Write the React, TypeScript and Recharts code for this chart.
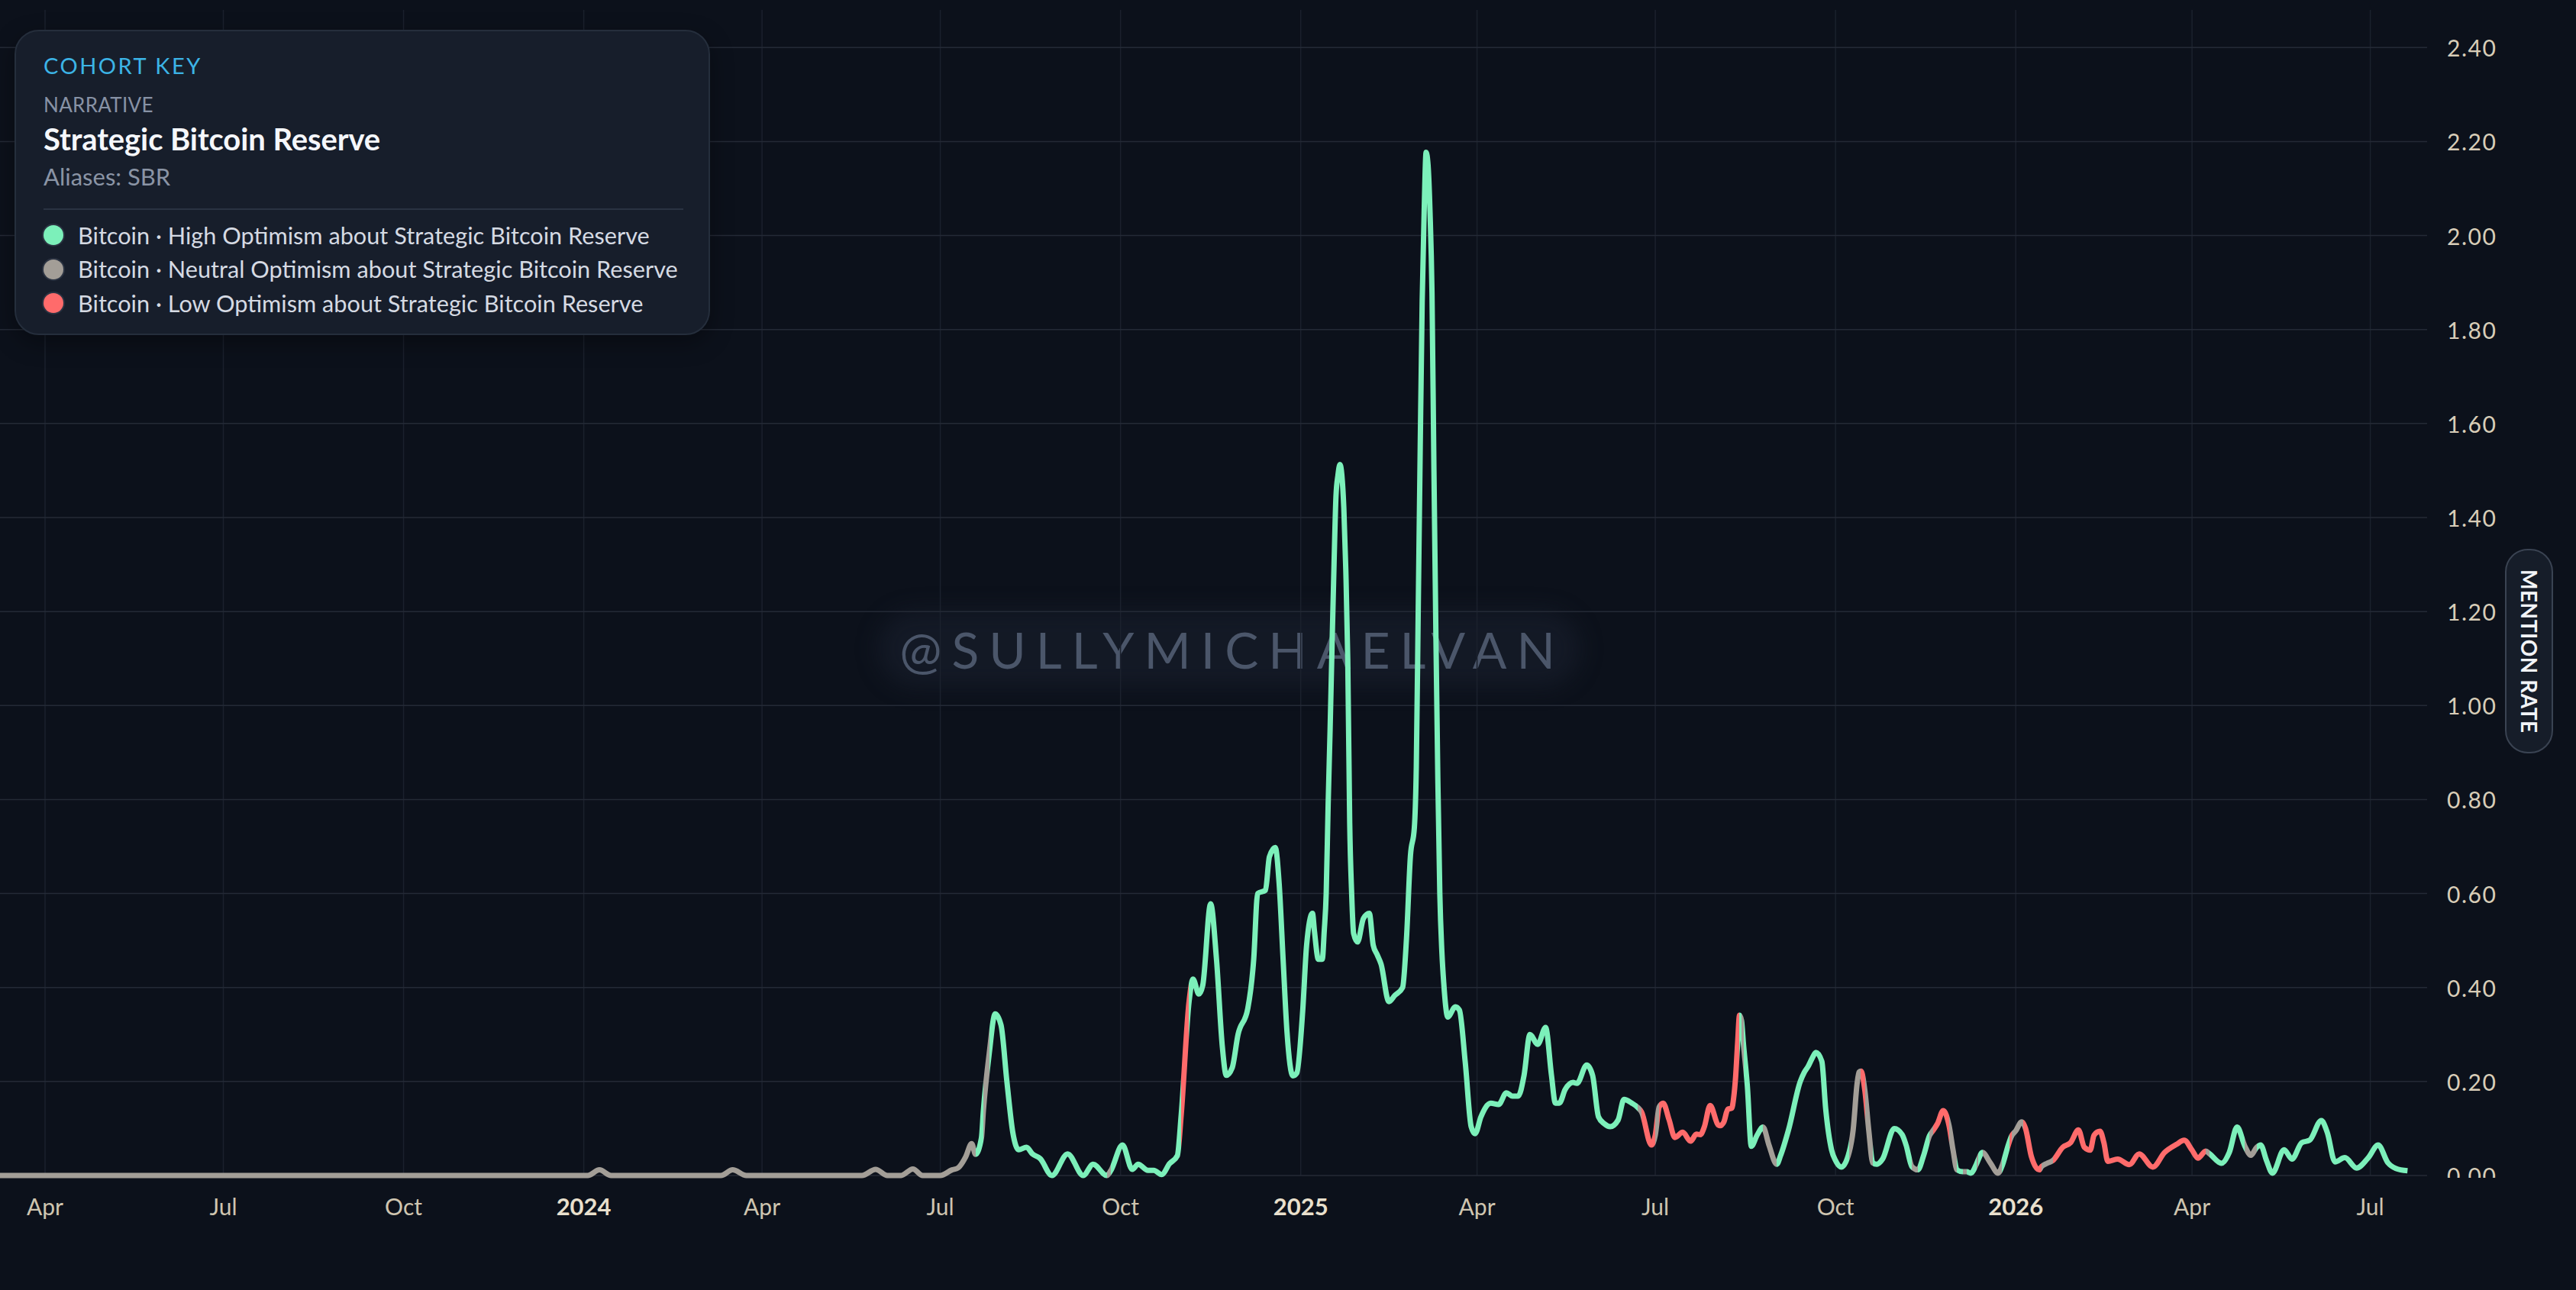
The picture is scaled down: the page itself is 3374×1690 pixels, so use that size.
import React from 'react';
import { LineChart, Line, XAxis, YAxis, CartesianGrid } from 'recharts';

// mention rate samples
const dates = [
  '2023-03-09', '2024-01-03', '2024-01-09', '2024-01-15', '2024-03-11', '2024-03-17', '2024-03-24',
  '2024-05-22', '2024-05-29', '2024-06-04', '2024-06-11', '2024-06-17', '2024-06-22', '2024-07-01',
  '2024-07-07', '2024-07-10', '2024-07-14', '2024-07-17', '2024-07-19', '2024-07-22', '2024-07-23',
  '2024-07-26', '2024-07-29', '2024-08-01', '2024-08-04', '2024-08-07', '2024-08-10', '2024-08-14',
  '2024-08-17', '2024-08-21', '2024-08-27', '2024-09-04', '2024-09-12', '2024-09-17', '2024-09-24',
  '2024-09-26', '2024-10-02', '2024-10-07', '2024-10-10', '2024-10-15', '2024-10-18', '2024-10-22',
  '2024-10-26', '2024-10-30', '2024-11-01', '2024-11-05', '2024-11-07', '2024-11-10', '2024-11-12',
  '2024-11-16', '2024-11-19', '2024-11-22', '2024-11-24', '2024-11-27', '2024-11-30', '2024-12-05',
  '2024-12-08', '2024-12-10', '2024-12-14', '2024-12-16', '2024-12-19', '2024-12-21', '2024-12-23',
  '2024-12-25', '2024-12-28', '2024-12-30', '2025-01-02', '2025-01-04', '2025-01-07', '2025-01-08',
  '2025-01-10', '2025-01-12', '2025-01-13', '2025-01-14', '2025-01-15', '2025-01-16', '2025-01-17',
  '2025-01-18', '2025-01-19', '2025-01-20', '2025-01-21', '2025-01-22', '2025-01-23', '2025-01-24',
  '2025-01-25', '2025-01-26', '2025-01-27', '2025-01-28', '2025-01-30', '2025-02-02', '2025-02-05',
  '2025-02-07', '2025-02-09', '2025-02-11', '2025-02-15', '2025-02-18', '2025-02-22', '2025-02-24',
  '2025-02-26', '2025-02-28', '2025-03-01', '2025-03-02', '2025-03-03', '2025-03-04', '2025-03-05',
  '2025-03-06', '2025-03-07', '2025-03-08', '2025-03-09', '2025-03-10', '2025-03-11', '2025-03-12',
  '2025-03-13', '2025-03-14', '2025-03-15', '2025-03-16', '2025-03-17', '2025-03-21', '2025-03-23',
  '2025-03-26', '2025-03-29', '2025-03-31', '2025-04-03', '2025-04-08', '2025-04-12', '2025-04-16',
  '2025-04-19', '2025-04-22', '2025-04-25', '2025-04-28', '2025-05-02', '2025-05-06', '2025-05-09',
  '2025-05-11', '2025-05-13', '2025-05-16', '2025-05-20', '2025-05-22', '2025-05-27', '2025-05-30',
  '2025-06-02', '2025-06-05', '2025-06-08', '2025-06-12', '2025-06-15', '2025-06-19', '2025-06-22',
  '2025-06-24', '2025-06-29', '2025-07-01', '2025-07-03', '2025-07-05', '2025-07-08', '2025-07-11',
  '2025-07-15', '2025-07-19', '2025-07-22', '2025-07-24', '2025-07-26', '2025-07-29', '2025-08-02',
  '2025-08-03', '2025-08-05', '2025-08-07', '2025-08-09', '2025-08-10', '2025-08-11', '2025-08-12',
  '2025-08-13', '2025-08-14', '2025-08-15', '2025-08-17', '2025-08-19', '2025-08-22', '2025-08-25',
  '2025-08-28', '2025-09-01', '2025-09-03', '2025-09-07', '2025-09-13', '2025-09-15', '2025-09-17',
  '2025-09-19', '2025-09-21', '2025-09-24', '2025-09-26', '2025-09-29', '2025-10-01', '2025-10-04',
  '2025-10-08', '2025-10-10', '2025-10-12', '2025-10-13', '2025-10-14', '2025-10-16', '2025-10-18',
  '2025-10-20', '2025-10-22', '2025-10-25', '2025-10-31', '2025-11-04', '2025-11-06', '2025-11-09',
  '2025-11-12', '2025-11-15', '2025-11-18', '2025-11-20', '2025-11-22', '2025-11-25', '2025-11-28',
  '2025-11-30', '2025-12-02', '2025-12-05', '2025-12-07', '2025-12-09', '2025-12-12', '2025-12-13',
  '2025-12-15', '2025-12-19', '2025-12-23', '2025-12-25', '2025-12-28', '2025-12-29', '2025-12-30',
  '2026-01-01', '2026-01-04', '2026-01-05', '2026-01-06', '2026-01-09', '2026-01-13', '2026-01-14',
  '2026-01-17', '2026-01-20', '2026-01-25', '2026-01-29', '2026-02-02', '2026-02-05', '2026-02-08',
  '2026-02-10', '2026-02-13', '2026-02-15', '2026-02-17', '2026-02-22', '2026-02-28', '2026-03-05',
  '2026-03-12', '2026-03-18', '2026-03-24', '2026-03-28', '2026-04-01', '2026-04-04', '2026-04-08',
  '2026-04-10', '2026-04-16', '2026-04-20', '2026-04-24', '2026-04-28', '2026-05-01', '2026-05-04',
  '2026-05-06', '2026-05-09', '2026-05-12', '2026-05-18', '2026-05-22', '2026-05-27', '2026-05-31',
  '2026-06-06', '2026-06-09', '2026-06-13', '2026-06-18', '2026-06-24', '2026-06-30', '2026-07-05',
  '2026-07-10', '2026-07-14', '2026-07-20',
];

const rates = [
  0, 0, 0.012, 0, 0, 0.012, 0,
  0, 0.013, 0, 0, 0.014, 0, 0,
  0.012, 0.016, 0.04, 0.068, 0.045, 0.08, 0.138,
  0.26, 0.344, 0.32, 0.2, 0.092, 0.055, 0.06,
  0.046, 0.036, 0, 0.046, 0, 0.024, 0,
  0.01, 0.065, 0.013, 0.024, 0.011, 0.011, 0.002,
  0.025, 0.042, 0.13, 0.37, 0.418, 0.386, 0.405,
  0.578, 0.46, 0.273, 0.213, 0.229, 0.3, 0.356,
  0.46, 0.6, 0.607, 0.678, 0.698, 0.62, 0.46,
  0.305, 0.212, 0.218, 0.35, 0.49, 0.558, 0.52,
  0.46, 0.46, 0.52, 0.6, 0.79, 0.95, 1.13,
  1.3, 1.446, 1.49, 1.513, 1.49, 1.42, 1.29,
  1.1, 0.75, 0.6, 0.515, 0.497, 0.547, 0.558,
  0.49, 0.47, 0.45, 0.37, 0.383, 0.4, 0.505,
  0.68, 0.74, 0.87, 1.21, 1.55, 1.86, 2.05,
  2.177, 2.15, 2.05, 1.88, 1.5, 1.15, 0.84,
  0.6, 0.48, 0.41, 0.36, 0.337, 0.359, 0.352,
  0.24, 0.104, 0.089, 0.125, 0.154, 0.151, 0.176,
  0.169, 0.169, 0.213, 0.3, 0.279, 0.315, 0.213,
  0.154, 0.154, 0.183, 0.198, 0.196, 0.235, 0.213,
  0.125, 0.11, 0.104, 0.118, 0.162, 0.154, 0.145,
  0.135, 0.065, 0.086, 0.146, 0.154, 0.119, 0.081,
  0.092, 0.073, 0.088, 0.087, 0.103, 0.149, 0.108,
  0.106, 0.114, 0.141, 0.143, 0.165, 0.21, 0.28,
  0.341, 0.33, 0.28, 0.19, 0.062, 0.086, 0.103,
  0.065, 0.024, 0.043, 0.097, 0.2, 0.219, 0.232,
  0.249, 0.262, 0.243, 0.141, 0.054, 0.032, 0.018,
  0.05, 0.097, 0.195, 0.22, 0.222, 0.18, 0.095,
  0.027, 0.024, 0.035, 0.1, 0.087, 0.065, 0.019,
  0.012, 0.043, 0.085, 0.097, 0.11, 0.138, 0.105,
  0.054, 0.012, 0.008, 0.008, 0.005, 0.025, 0.035,
  0.049, 0.027, 0.005, 0.02, 0.062, 0.075, 0.085,
  0.095, 0.114, 0.11, 0.1, 0.04, 0.012, 0.018,
  0.026, 0.032, 0.06, 0.07, 0.097, 0.06, 0.054,
  0.086, 0.094, 0.07, 0.03, 0.035, 0.023, 0.046,
  0.018, 0.049, 0.066, 0.075, 0.054, 0.037, 0.052,
  0.046, 0.026, 0.049, 0.103, 0.062, 0.043, 0.06,
  0.065, 0.032, 0.005, 0.055, 0.035, 0.07, 0.075,
  0.117, 0.092, 0.029, 0.038, 0.016, 0.038, 0.065,
  0.027, 0.015, 0.01,
];

// optimism cohort of the stretch that starts at each sample: H high, N neutral, L low
const tones = [
  'N', 'N', 'N', 'N', 'N', 'N', 'N',
  'N', 'N', 'N', 'N', 'N', 'N', 'N',
  'N', 'N', 'N', 'N', 'H', 'H', 'N',
  'H', 'H', 'H', 'H', 'H', 'H', 'H',
  'H', 'H', 'H', 'H', 'H', 'H', 'N',
  'H', 'H', 'H', 'H', 'H', 'H', 'H',
  'H', 'H', 'L', 'H', 'H', 'H', 'H',
  'H', 'H', 'H', 'H', 'H', 'H', 'H',
  'H', 'H', 'H', 'H', 'H', 'H', 'H',
  'H', 'H', 'H', 'H', 'H', 'H', 'H',
  'H', 'H', 'H', 'H', 'H', 'H', 'H',
  'H', 'H', 'H', 'H', 'H', 'H', 'H',
  'H', 'H', 'H', 'H', 'H', 'H', 'H',
  'H', 'H', 'H', 'H', 'H', 'H', 'H',
  'H', 'H', 'H', 'H', 'H', 'H', 'H',
  'H', 'H', 'H', 'H', 'H', 'H', 'H',
  'H', 'H', 'H', 'H', 'H', 'H', 'H',
  'H', 'H', 'H', 'H', 'H', 'H', 'H',
  'H', 'H', 'H', 'H', 'H', 'H', 'H',
  'H', 'H', 'H', 'H', 'H', 'H', 'H',
  'H', 'H', 'H', 'H', 'H', 'H', 'N',
  'L', 'L', 'N', 'L', 'L', 'L', 'L',
  'L', 'L', 'L', 'L', 'L', 'L', 'L',
  'L', 'L', 'L', 'L', 'L', 'L', 'L',
  'H', 'N', 'H', 'H', 'H', 'H', 'N',
  'N', 'H', 'H', 'H', 'H', 'H', 'H',
  'H', 'H', 'H', 'H', 'H', 'H', 'H',
  'N', 'N', 'N', 'N', 'L', 'N', 'N',
  'H', 'H', 'H', 'H', 'H', 'H', 'N',
  'H', 'H', 'N', 'L', 'L', 'L', 'N',
  'N', 'H', 'N', 'H', 'H', 'N', 'H',
  'N', 'N', 'N', 'H', 'H', 'L', 'N',
  'N', 'N', 'L', 'L', 'L', 'L', 'N',
  'N', 'L', 'L', 'L', 'L', 'L', 'L',
  'L', 'L', 'L', 'L', 'L', 'L', 'L',
  'L', 'L', 'L', 'L', 'L', 'L', 'N',
  'H', 'H', 'H', 'H', 'N', 'N', 'H',
  'H', 'H', 'H', 'H', 'H', 'H', 'H',
  'H', 'H', 'H', 'H', 'H', 'H', 'H',
  'H', 'H', 'H',
];

const toneColors: Record<string, string> = { H: '#7cf0ba', N: '#a39e97', L: '#ff6b6b' };

const legendTones = ['H', 'N', 'L'];
const legendLabels = [
  'Bitcoin · High Optimism about Strategic Bitcoin Reserve',
  'Bitcoin · Neutral Optimism about Strategic Bitcoin Reserve',
  'Bitcoin · Low Optimism about Strategic Bitcoin Reserve',
];

const xTickDates = [
  '2023-04-01', '2023-07-01', '2023-10-01', '2024-01-01', '2024-04-01', '2024-07-01', '2024-10-01',
  '2025-01-01', '2025-04-01', '2025-07-01', '2025-10-01', '2026-01-01', '2026-04-01', '2026-07-01',
];
const xTickLabels = ['Apr', 'Jul', 'Oct', '2024', 'Apr', 'Jul', 'Oct', '2025', 'Apr', 'Jul', 'Oct', '2026', 'Apr', 'Jul'];
const yTicks = [0, 0.2, 0.4, 0.6, 0.8, 1.0, 1.2, 1.4, 1.6, 1.8, 2.0, 2.2, 2.4];

const FONT = 'Lato, "Noto Sans", sans-serif';
const BG = '#0c111b';

const rows = dates.map((d, i) => ({ t: Date.parse(d), rate: rates[i] }));
const xTickTimes = xTickDates.map(d => Date.parse(d));
const tFirst = rows[0].t;
const tLast = rows[rows.length - 1].t;

function toneStops() {
  const span = tLast - tFirst;
  const out: React.ReactNode[] = [];
  for (let i = 0; i < rows.length - 1; i++) {
    const c = toneColors[tones[i]];
    out.push(<stop key={`a${i}`} offset={(rows[i].t - tFirst) / span} stopColor={c} />);
    out.push(<stop key={`b${i}`} offset={(rows[i + 1].t - tFirst) / span} stopColor={c} />);
  }
  return out;
}

function scaleOf(axis: any) {
  const s = axis?.scale;
  if (typeof s === 'function') return s;
  if (s && typeof s.map === 'function') return (v: number) => s.map(v);
  return null;
}

function XTick({ x, y, payload }: any) {
  const label = xTickLabels[xTickTimes.indexOf(payload.value)] ?? '';
  const isYear = /^\d{4}$/.test(label);
  return (
    <text
      x={x} y={y + 40} textAnchor="middle" dominantBaseline="central"
      fill={isYear ? '#e9e0cd' : '#cfc5b0'} fontSize={isYear ? 31 : 30}
      fontWeight={isYear ? 700 : 400} fontFamily={FONT}
    >
      {label}
    </text>
  );
}

function YTick({ x, y, payload }: any) {
  const v = payload.value as number;
  const text = (
    <text
      x={x} y={y} textAnchor="start" dominantBaseline="central"
      fill="#d8cdb8" fontSize={30} letterSpacing={1.5} fontFamily={FONT}
      clipPath={v === 0 ? 'url(#zeroTickClip)' : undefined}
    >
      {v.toFixed(2)}
    </text>
  );
  if (v !== 0) return text;
  // the bottom label is cut off by the axis band in the original
  return (
    <g>
      <defs>
        <clipPath id="zeroTickClip">
          <rect x={x - 10} y={y - 40} width={120} height={43} />
        </clipPath>
      </defs>
      {text}
    </g>
  );
}

function Legend() {
  return (
    <div style={{
      position: 'absolute', left: 19, top: 39, width: 907, height: 396,
      background: '#171e2b', border: '2px solid #252e3c', borderRadius: 32,
      boxShadow: '0 10px 30px rgba(0,0,0,0.35)', fontFamily: FONT,
    }}>
      <div style={{ position: 'absolute', left: 36, top: 30, fontSize: 29, lineHeight: '29px', color: '#3cb4e6', letterSpacing: 2.5 }}>
        COHORT KEY
      </div>
      <div style={{ position: 'absolute', left: 36, top: 83, fontSize: 26, lineHeight: '26px', color: '#8792a5', letterSpacing: 0.3 }}>
        NARRATIVE
      </div>
      <div style={{ position: 'absolute', left: 36, top: 121, fontSize: 40, lineHeight: '40px', color: '#f5f7fb', fontWeight: 700, letterSpacing: -0.1 }}>
        Strategic Bitcoin Reserve
      </div>
      <div style={{ position: 'absolute', left: 36, top: 175, fontSize: 31, lineHeight: '31px', color: '#8a94a5' }}>
        Aliases: SBR
      </div>
      <div style={{ position: 'absolute', left: 36, top: 232, width: 838, height: 2, background: '#2a3342' }} />
      {legendTones.map((tone, i) => (
        <div key={tone} style={{
          position: 'absolute', left: 36, top: 245 + i * 44.5, height: 44,
          display: 'flex', alignItems: 'center',
        }}>
          <span style={{
            width: 26, height: 26, borderRadius: '50%', background: toneColors[tone],
            boxShadow: '0 0 0 2px #2b3342', marginRight: 19, flex: 'none',
          }} />
          <span style={{ fontSize: 30.7, color: '#d5dae3', whiteSpace: 'nowrap' }}>{legendLabels[i]}</span>
        </div>
      ))}
    </div>
  );
}

export default function App() {
  return (
    <div style={{ position: 'absolute', left: 0, top: 0, width: 3374, height: 1690, background: BG, overflow: 'hidden' }}>
      <div style={{
        position: 'absolute', left: 1150, top: 800, width: 920, height: 100, borderRadius: 50,
        background: 'rgba(28,36,50,0.45)', filter: 'blur(14px)',
      }} />
      <div style={{
        position: 'absolute', left: 1614, top: 851, transform: 'translate(-50%, -50%)',
        fontFamily: FONT, fontSize: 66, fontWeight: 400, letterSpacing: 13, color: '#4b566a',
        whiteSpace: 'nowrap', lineHeight: '66px',
      }}>
        @SULLYMICHAELVAN
      </div>
      <div style={{ position: 'absolute', left: 0, top: 0 }}>
        <LineChart width={3374} height={1690} data={rows} margin={{ top: 13, right: 45, bottom: 90, left: 0 }}>
          <defs>
            <linearGradient id="toneGrad" x1="0" y1="0" x2="1" y2="0">
              {toneStops()}
            </linearGradient>
          </defs>
          <CartesianGrid
            horizontal={false} stroke="#1b212d" strokeWidth={1.5}
            verticalCoordinatesGenerator={({ xAxis }: any) => {
              const s = scaleOf(xAxis);
              return s ? xTickTimes.map(t => s(t)) : [];
            }}
          />
          <CartesianGrid
            vertical={false} stroke="#242a36" strokeWidth={1.5}
            horizontalCoordinatesGenerator={({ yAxis }: any) => {
              const s = scaleOf(yAxis);
              return s ? yTicks.map(v => s(v)) : [];
            }}
          />
          <XAxis
            dataKey="t" type="number" domain={[tFirst, Date.parse('2026-07-30')]} ticks={xTickTimes}
            height={60} axisLine={false} tickLine={false} tickSize={0} tickMargin={0}
            tick={<XTick />} interval={0}
          />
          <YAxis
            orientation="right" type="number" domain={[0, 2.48]} ticks={yTicks}
            width={150} axisLine={false} tickLine={false} tickSize={0} tickMargin={26}
            tick={<YTick />} interval={0}
          />
          <Line
            type="monotone" dataKey="rate" stroke="url(#toneGrad)" strokeWidth={7}
            strokeLinejoin="round" strokeLinecap="butt" dot={false} activeDot={false}
            isAnimationActive={false}
          />
        </LineChart>
      </div>
      <Legend />
      <div style={{
        position: 'absolute', left: 3281, top: 719, width: 59, height: 264,
        background: '#161d29', border: '2px solid #3a4352', borderRadius: 30,
        display: 'flex', alignItems: 'center', justifyContent: 'center',
      }}>
        <span style={{
          writingMode: 'vertical-rl', fontFamily: FONT, fontWeight: 700, fontSize: 28,
          color: '#f2f4f8', letterSpacing: 0.5, whiteSpace: 'nowrap',
        }}>
          MENTION RATE
        </span>
      </div>
    </div>
  );
}
